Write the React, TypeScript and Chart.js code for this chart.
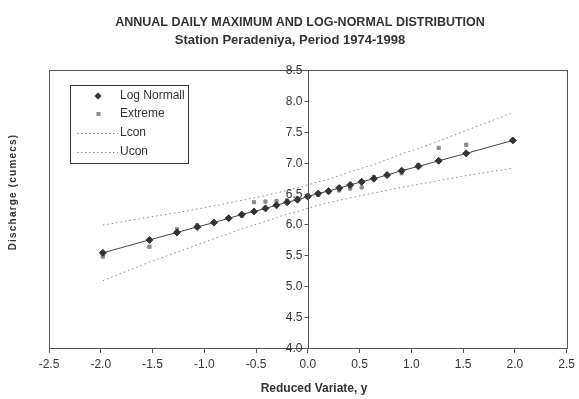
import React, { useEffect, useRef } from "react";
import { Chart, registerables } from "chart.js";

Chart.register(...registerables);

const titleText = "ANNUAL DAILY MAXIMUM AND LOG-NORMAL DISTRIBUTION";
const subtitleText = "Station Peradeniya, Period 1974-1998";
const xTitle = "Reduced Variate, y";
const yTitle = "Discharge (cumecs)";
const legendLabels = ["Log Normall", "Extreme", "Lcon", "Ucon"];
const yTickValues = [4.0, 4.5, 5.0, 5.5, 6.0, 6.5, 7.0, 7.5, 8.0, 8.5];

const reducedVariate = [-1.98, -1.53, -1.264, -1.068, -0.906, -0.765, -0.638, -0.52, -0.409, -0.303, -0.2, -0.1, 0, 0.1, 0.2, 0.303, 0.409, 0.52, 0.638, 0.765, 0.906, 1.068, 1.264, 1.53, 1.98];
const logNormal = [5.54, 5.75, 5.87, 5.96, 6.03, 6.1, 6.16, 6.21, 6.26, 6.31, 6.36, 6.4, 6.45, 6.5, 6.54, 6.59, 6.64, 6.69, 6.74, 6.8, 6.87, 6.94, 7.03, 7.15, 7.36];
const extreme = [5.48, 5.64, 5.92, 5.99, 6.03, 6.1, 6.14, 6.36, 6.37, 6.38, 6.39, 6.42, 6.47, 6.48, 6.52, 6.55, 6.58, 6.6, 6.77, 6.8, 6.83, 6.96, 7.24, 7.29, 7.36];
const lcon = [5.09, 5.39, 5.55, 5.67, 5.77, 5.85, 5.93, 5.99, 6.05, 6.11, 6.17, 6.21, 6.26, 6.31, 6.35, 6.39, 6.43, 6.47, 6.51, 6.55, 6.6, 6.65, 6.71, 6.79, 6.91];
const ucon = [5.99, 6.12, 6.19, 6.25, 6.3, 6.35, 6.39, 6.43, 6.47, 6.51, 6.55, 6.59, 6.64, 6.69, 6.73, 6.79, 6.85, 6.91, 6.97, 7.05, 7.14, 7.23, 7.35, 7.52, 7.81];

const FONT = '"Liberation Sans", Arial, Helvetica, sans-serif';
const AXIS = "#555";
const TEXT = "#333";

const pts = (ys: number[]) => reducedVariate.map((x, i) => ({ x, y: ys[i] }));

const decorPlugin = {
  id: "decor",
  afterDraw(chart: any) {
    const { ctx, chartArea: a } = chart;
    const xs = chart.scales.x;
    const ys = chart.scales.y;
    ctx.save();
    // frame
    ctx.strokeStyle = AXIS;
    ctx.lineWidth = 1;
    ctx.strokeRect(Math.round(a.left) + 0.5, Math.round(a.top) + 0.5, Math.round(a.right - a.left), Math.round(a.bottom - a.top));
    // y axis at x = 0 with ticks and labels on the left
    const x0 = Math.round(xs.getPixelForValue(0)) + 0.5;
    ctx.beginPath();
    ctx.moveTo(x0, a.top);
    ctx.lineTo(x0, a.bottom);
    ctx.stroke();
    ctx.fillStyle = TEXT;
    ctx.font = `12px ${FONT}`;
    ctx.textAlign = "right";
    ctx.textBaseline = "middle";
    yTickValues.forEach((v) => {
      const py = Math.round(ys.getPixelForValue(v)) + 0.5;
      ctx.beginPath();
      ctx.moveTo(x0 - 4, py);
      ctx.lineTo(x0, py);
      ctx.stroke();
      ctx.fillText(v.toFixed(1), x0 - 6, py);
    });
    // titles
    ctx.textAlign = "center";
    ctx.font = `bold 12.5px ${FONT}`;
    ctx.fillText(titleText, 300, 23);
    ctx.font = `bold 13px ${FONT}`;
    ctx.fillText(subtitleText, 290, 40);
    ctx.font = `bold 12px ${FONT}`;
    ctx.fillText(xTitle, 314, 389);
    // y title
    ctx.save();
    ctx.translate(13, 192);
    ctx.rotate(-Math.PI / 2);
    ctx.font = `bold 10px ${FONT}`;
    try { (ctx as any).letterSpacing = "1.2px"; } catch (e) {}
    ctx.fillText(yTitle, 0, 0);
    ctx.restore();
    // legend
    const bx = 70, by = 85, bw = 118, bh = 78;
    ctx.fillStyle = "#fff";
    ctx.fillRect(bx, by, bw, bh);
    ctx.strokeStyle = "#333";
    ctx.strokeRect(bx + 0.5, by + 0.5, bw, bh);
    const rows = [96, 114, 133, 152];
    ctx.textAlign = "left";
    ctx.font = `12px ${FONT}`;
    rows.forEach((ry, i) => {
      if (i === 0) {
        ctx.fillStyle = "#333";
        ctx.beginPath();
        ctx.moveTo(98, ry - 3.5);
        ctx.lineTo(101.5, ry);
        ctx.lineTo(98, ry + 3.5);
        ctx.lineTo(94.5, ry);
        ctx.closePath();
        ctx.fill();
      } else if (i === 1) {
        ctx.fillStyle = "#8c8c8c";
        ctx.fillRect(96.5, ry - 2, 4, 4);
      } else {
        ctx.strokeStyle = "#888";
        ctx.setLineDash([1.5, 2.5]);
        ctx.beginPath();
        ctx.moveTo(77, ry + 0.5);
        ctx.lineTo(118, ry + 0.5);
        ctx.stroke();
        ctx.setLineDash([]);
      }
      ctx.fillStyle = TEXT;
      ctx.fillText(legendLabels[i], 120, ry);
    });
    ctx.restore();
  },
};

export default function App() {
  const ref = useRef<HTMLCanvasElement>(null);
  useEffect(() => {
    if (!ref.current) return;
    const chart = new Chart(ref.current, {
      type: "scatter",
      data: {
        datasets: [
          {
            label: "Log Normall",
            data: pts(logNormal),
            showLine: true,
            borderColor: "#444",
            borderWidth: 1,
            backgroundColor: "#333",
            pointStyle: "rectRot",
            pointRadius: 3.5,
            pointBorderWidth: 1,
            pointBorderColor: "#333",
            order: 1,
          },
          {
            label: "Extreme",
            data: pts(extreme),
            showLine: false,
            backgroundColor: "#8c8c8c",
            borderColor: "#8c8c8c",
            pointStyle: "rect",
            pointRadius: 2.3,
            order: 2,
          },
          {
            label: "Lcon",
            data: pts(lcon),
            showLine: true,
            borderColor: "#888",
            borderWidth: 1,
            borderDash: [1.5, 3],
            pointRadius: 0,
            order: 3,
          },
          {
            label: "Ucon",
            data: pts(ucon),
            showLine: true,
            borderColor: "#888",
            borderWidth: 1,
            borderDash: [1.5, 3],
            pointRadius: 0,
            order: 3,
          },
        ],
      },
      options: {
        animation: false,
        responsive: false,
        layout: { padding: { left: 49, right: 10, top: 70, bottom: 27 } },
        plugins: {
          legend: { display: false },
          title: { display: false },
          tooltip: { enabled: false },
        },
        scales: {
          x: {
            type: "linear",
            min: -2.5,
            max: 2.5,
            afterFit: (s: any) => { s.height = 24; },
            ticks: {
              stepSize: 0.5,
              color: TEXT,
              font: { family: FONT, size: 12 },
              padding: 4,
              callback: (v: any) => Number(v).toFixed(1),
            },
            grid: { display: true, drawOnChartArea: false, drawTicks: true, tickLength: 5, color: AXIS },
            border: { display: true, color: AXIS },
          },
          y: {
            type: "linear",
            display: false,
            min: 4,
            max: 8.5,
          },
        },
      },
      plugins: [decorPlugin],
    });
    return () => chart.destroy();
  }, []);
  return (
    <div style={{ position: "absolute", left: 0, top: 0, width: 579, height: 399, background: "#fff" }}>
      <canvas ref={ref} width={579} height={399} style={{ width: 579, height: 399 }} />
    </div>
  );
}
